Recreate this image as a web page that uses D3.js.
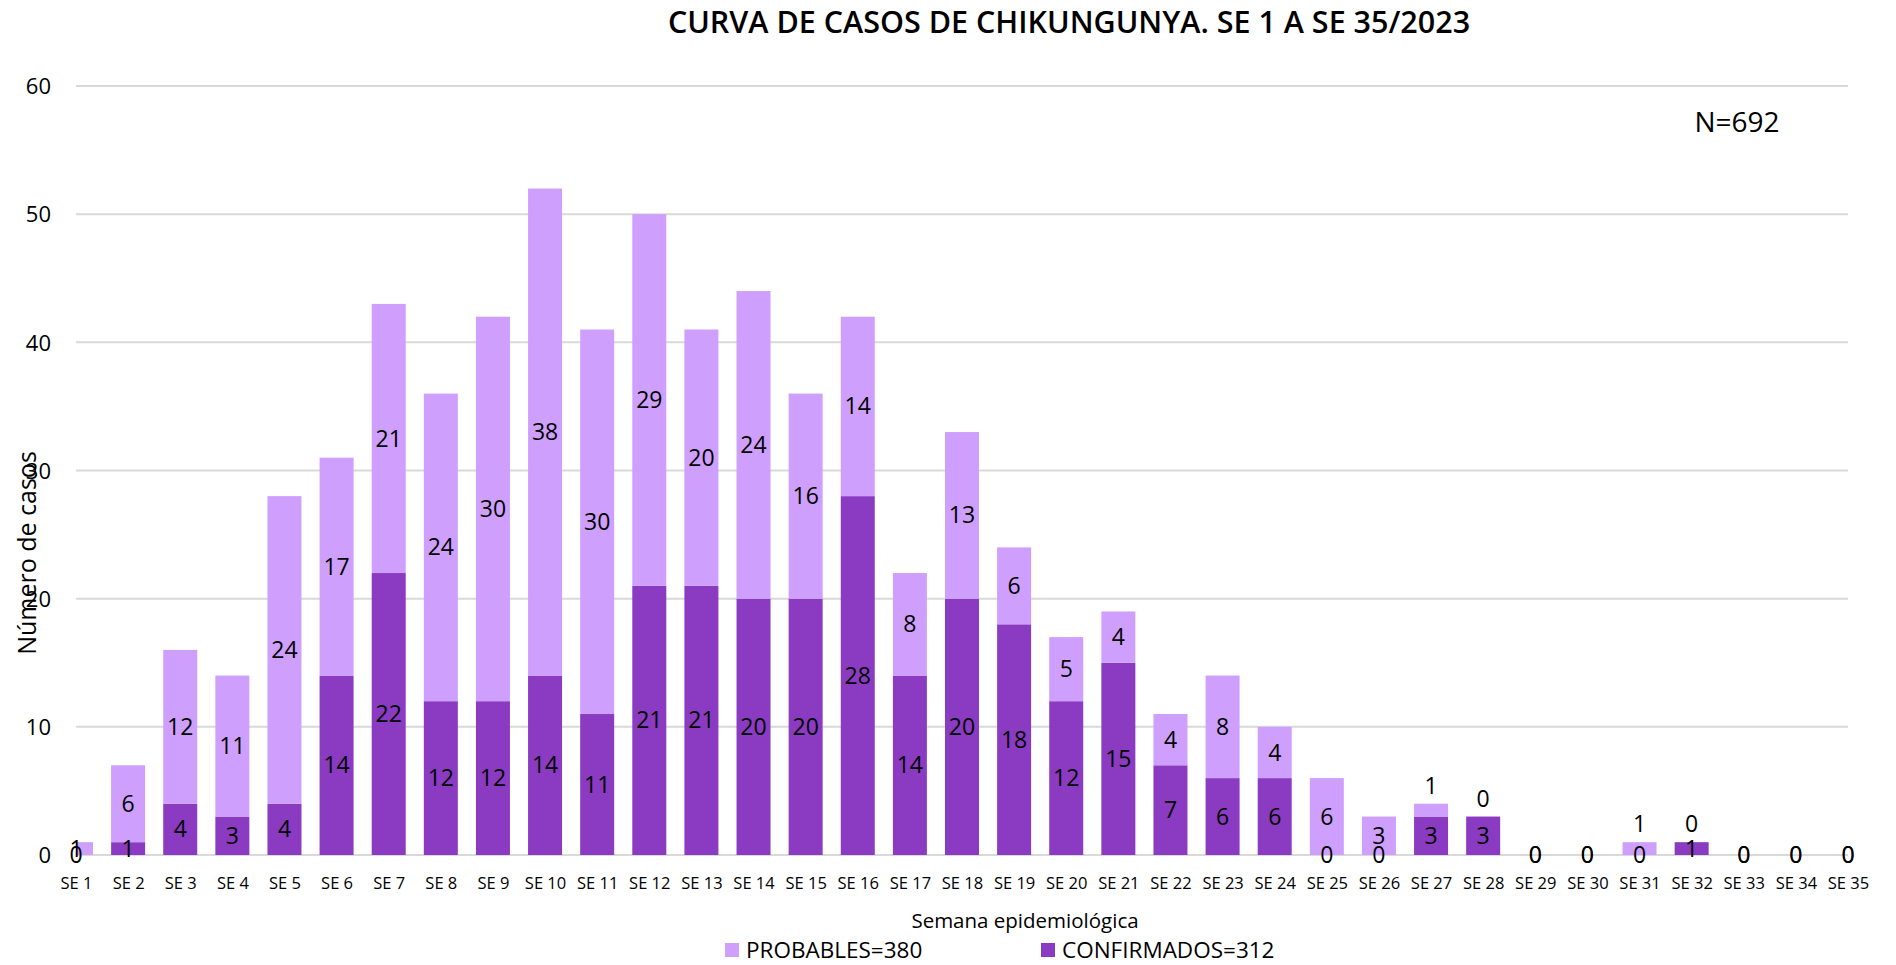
<!DOCTYPE html>
<html><head><meta charset="utf-8">
<script src="https://cdn.jsdelivr.net/npm/d3@7"></script>
<style>
html,body{margin:0;padding:0;background:#fff;}
svg text{font-family:"Open Sans","Noto Sans",sans-serif;fill:#000;}
</style></head>
<body>
<svg id="chart" width="1896" height="965"></svg>
<script>
const weeks = d3.range(1, 36).map(i => "SE " + i);
const confirmados = [0,1,4,3,4,14,22,12,12,14,11,21,21,20,20,28,14,20,18,12,15,7,6,6,0,0,3,3,0,0,0,1,0,0,0];
const probables  = [1,6,12,11,24,17,21,24,30,38,30,29,20,24,16,14,8,13,6,5,4,4,8,4,6,3,1,0,0,0,1,0,0,0,0];
const yTicks = [0,10,20,30,40,50,60];
const seriesNames = ["PROBABLES=380", "CONFIRMADOS=312"];
const titleText = "CURVA DE CASOS DE CHIKUNGUNYA. SE 1 A SE 35/2023";
const totalText = "N=692";

(function(){
const colConf = "#8a3bc2", colProb = "#cf9ffd";
const svg = d3.select("#chart");
const pLeft = 76, pRight = 1848, pTop = 86, pBottom = 855;

const x = d3.scalePoint().domain(weeks).range([pLeft, pRight]);
const y = d3.scaleLinear().domain([0, 60]).range([pBottom, pTop]);
const barW = 34;

svg.append("g").selectAll("line").data(yTicks).join("line")
  .attr("x1", pLeft).attr("x2", pRight)
  .attr("y1", d => y(d)).attr("y2", d => y(d))
  .attr("stroke", "#d9d9d9").attr("stroke-width", 2);

const yAxis = d3.axisLeft(y).tickValues(yTicks).tickSize(0).tickPadding(0);
const gy = svg.append("g").attr("transform", "translate(51,0)").call(yAxis);
gy.select(".domain").remove();
gy.selectAll("text").style("font-size", "22px").attr("dy", "0.35em");

const xAxis = d3.axisBottom(x).tickSize(0).tickPadding(0);
const gx = svg.append("g").attr("transform", "translate(0,883)").call(xAxis);
gx.select(".domain").remove();
gx.selectAll("text").style("font-size", "16.5px").attr("dy", "0.35em");

svg.append("clipPath").attr("id", "plotclip").append("rect")
  .attr("x", pLeft).attr("y", 0).attr("width", pRight - pLeft).attr("height", pBottom + 1);

const data = weeks.map((w, i) => ({w, c: confirmados[i], p: probables[i]}));
const bars = svg.append("g").attr("clip-path", "url(#plotclip)");
bars.selectAll("rect.c").data(data).join("rect").attr("class", "c")
  .attr("x", d => x(d.w) - barW/2).attr("width", barW)
  .attr("y", d => y(d.c)).attr("height", d => y(0) - y(d.c))
  .attr("fill", colConf);
bars.selectAll("rect.p").data(data).join("rect").attr("class", "p")
  .attr("x", d => x(d.w) - barW/2).attr("width", barW)
  .attr("y", d => y(d.c + d.p)).attr("height", d => y(d.c) - y(d.c + d.p))
  .attr("fill", colProb);

const lab = svg.append("g").style("font-size", "23px").attr("text-anchor", "middle");
lab.selectAll("text.c").data(data).join("text").attr("class", "c")
  .attr("x", d => x(d.w)).attr("y", d => y(d.c / 2)).attr("dy", "0.35em")
  .text(d => d.c);
lab.selectAll("text.p").data(data).join("text").attr("class", "p")
  .attr("x", d => x(d.w))
  .attr("y", (d, i) => (i > 20 && d.p < 2 && d.c + d.p > 0) ? y(d.c + d.p) - 18 : y(d.c + d.p / 2))
  .attr("dy", "0.35em")
  .text(d => d.p);

svg.append("text").attr("x", 1069).attr("y", 22).attr("dy", "0.35em").attr("text-anchor", "middle")
  .style("font-size", "30.5px").style("font-weight", "600").text(titleText);
svg.append("text").attr("x", 1737).attr("y", 122).attr("dy", "0.35em").attr("text-anchor", "middle")
  .style("font-size", "28px").text(totalText);
svg.append("text").attr("transform", "translate(27,553) rotate(-90)").attr("dy", "0.35em")
  .attr("text-anchor", "middle").style("font-size", "25px").text("Número de casos");
svg.append("text").attr("x", 1025).attr("y", 921).attr("dy", "0.35em").attr("text-anchor", "middle")
  .style("font-size", "20.5px").text("Semana epidemiológica");

const legX = [725, 1041];
const legCols = [colProb, colConf];
const leg = svg.append("g");
seriesNames.forEach((n, i) => {
  leg.append("rect").attr("x", legX[i]).attr("y", 943).attr("width", 14).attr("height", 14).attr("fill", legCols[i]);
  leg.append("text").attr("x", legX[i] + 21).attr("y", 950).attr("dy", "0.35em").style("font-size", "22.5px").text(n);
});
})();
</script>
</body></html>
